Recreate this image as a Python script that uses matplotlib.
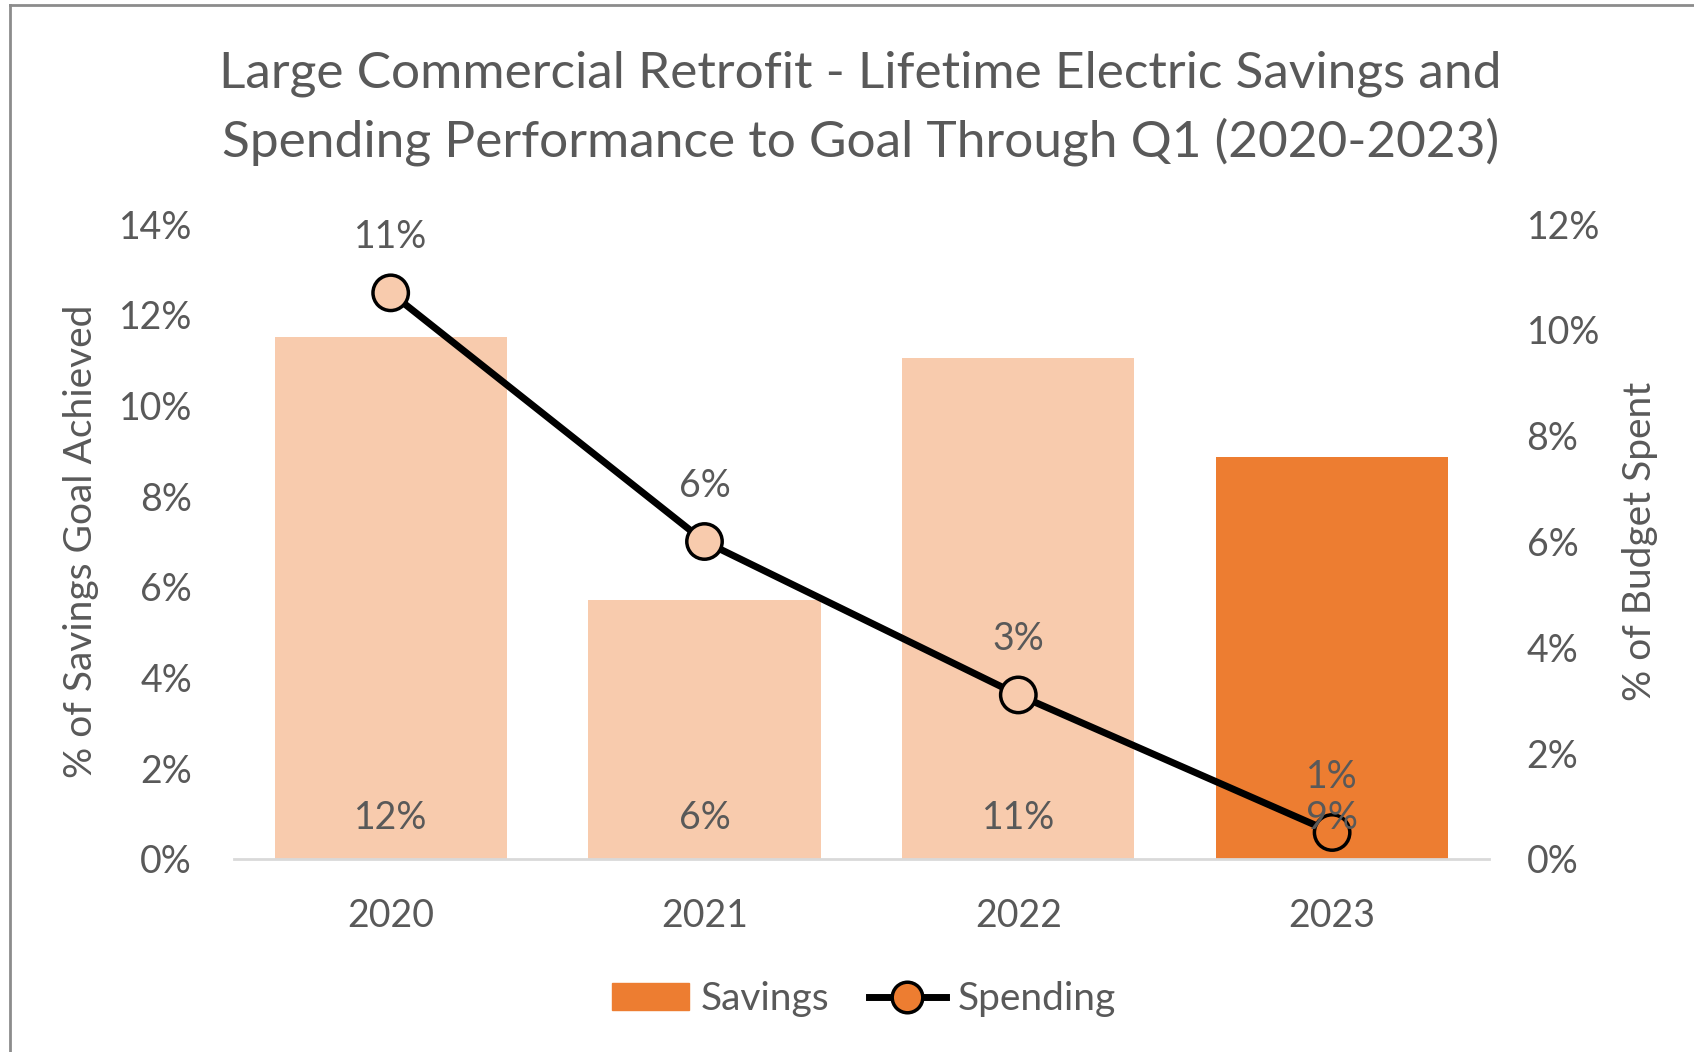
import matplotlib
matplotlib.use("Agg")
import matplotlib.pyplot as plt
from matplotlib.lines import Line2D
from matplotlib.patches import Patch
from matplotlib.ticker import PercentFormatter
import numpy as np

plt.rcParams['font.family'] = ['Lato', 'DejaVu Sans']

years = ["2020", "2021", "2022", "2023"]
savings = [11.5, 5.7, 11.05, 8.86]       # % of savings goal achieved
spending = [10.7, 6.0, 3.1, 0.5]         # % of budget spent
savings_labels = ["12%", "6%", "11%", "9%"]
spending_labels = ["11%", "6%", "3%", "1%"]

light = "#F8CBAD"
orange = "#ED7D31"
grey = "#595959"
bar_colors = [light, light, light, orange]
marker_fill = [light, light, light, orange]

fig = plt.figure(figsize=(16.94, 10.52), dpi=100)
ax = fig.add_axes([0.138, 0.1835, 0.741, 0.6035])
ax2 = ax.twinx()

x = np.arange(len(years))
ax.bar(x, savings, width=0.74, color=bar_colors, zorder=1)
ax.set_xlim(-0.5, 3.5)
ax.set_ylim(0, 14)
ax.set_yticks(np.arange(0, 15, 2))
ax.yaxis.set_major_formatter(PercentFormatter(decimals=0))
ax.set_xticks(x)
ax.set_xticklabels(years)

ax2.plot(x, spending, color="black", lw=5, zorder=3)
ax2.scatter(x, spending, s=650, facecolors=marker_fill, edgecolors="black",
            linewidths=2.5, zorder=4)
ax2.set_ylim(0, 12)
ax2.set_yticks(np.arange(0, 13, 2))
ax2.yaxis.set_major_formatter(PercentFormatter(decimals=0))
for i, lab in enumerate(spending_labels):
    ax2.text(x[i], spending[i] + 1.05, lab, ha="center", va="center",
             fontsize=27, color=grey, zorder=5)
# bar labels drawn on the top axes so they sit above the line markers
for i, lab in enumerate(savings_labels):
    ax2.text(x[i], 0.9, lab, ha="center", va="center", fontsize=27, color=grey,
             transform=ax.transData, zorder=6)

for a in (ax, ax2):
    for s in a.spines.values():
        s.set_visible(False)
    a.tick_params(length=0, labelsize=27, labelcolor=grey)
ax.spines["bottom"].set_visible(True)
ax.spines["bottom"].set_color("#D9D9D9")
ax.spines["bottom"].set_linewidth(2)
ax.tick_params(axis="y", pad=30)
ax.tick_params(axis="x", pad=28)
ax2.tick_params(axis="y", pad=27)

ax.set_ylabel("% of Savings Goal Achieved", fontsize=28, color=grey, labelpad=14)
ax2.set_ylabel("% of Budget Spent", fontsize=28, color=grey, labelpad=16)

fig.text(0.508, 0.897, "Large Commercial Retrofit - Lifetime Electric Savings and\n"
         "Spending Performance to Goal Through Q1 (2020-2023)",
         ha="center", va="center", fontsize=37, color=grey, linespacing=1.5)

handles = [Patch(facecolor=orange, edgecolor=orange),
           Line2D([0], [0], color="black", lw=5, marker="o", markersize=22,
                  markerfacecolor=orange, markeredgecolor="black", markeredgewidth=2.5)]
fig.legend(handles, ["Savings", "Spending"], loc="center", bbox_to_anchor=(0.51, 0.05),
           ncol=2, frameon=False, fontsize=28, labelcolor=grey, handlelength=2.0,
           handletextpad=0.3, columnspacing=1.0)

# outer chart border (left and top visible)
fig.add_artist(Line2D([0.006, 0.006], [0, 0.995], transform=fig.transFigure,
                      color="#8C8C8C", lw=2))
fig.add_artist(Line2D([0.006, 1], [0.995, 0.995], transform=fig.transFigure,
                      color="#8C8C8C", lw=2))

fig.savefig("out.png", dpi=100)
